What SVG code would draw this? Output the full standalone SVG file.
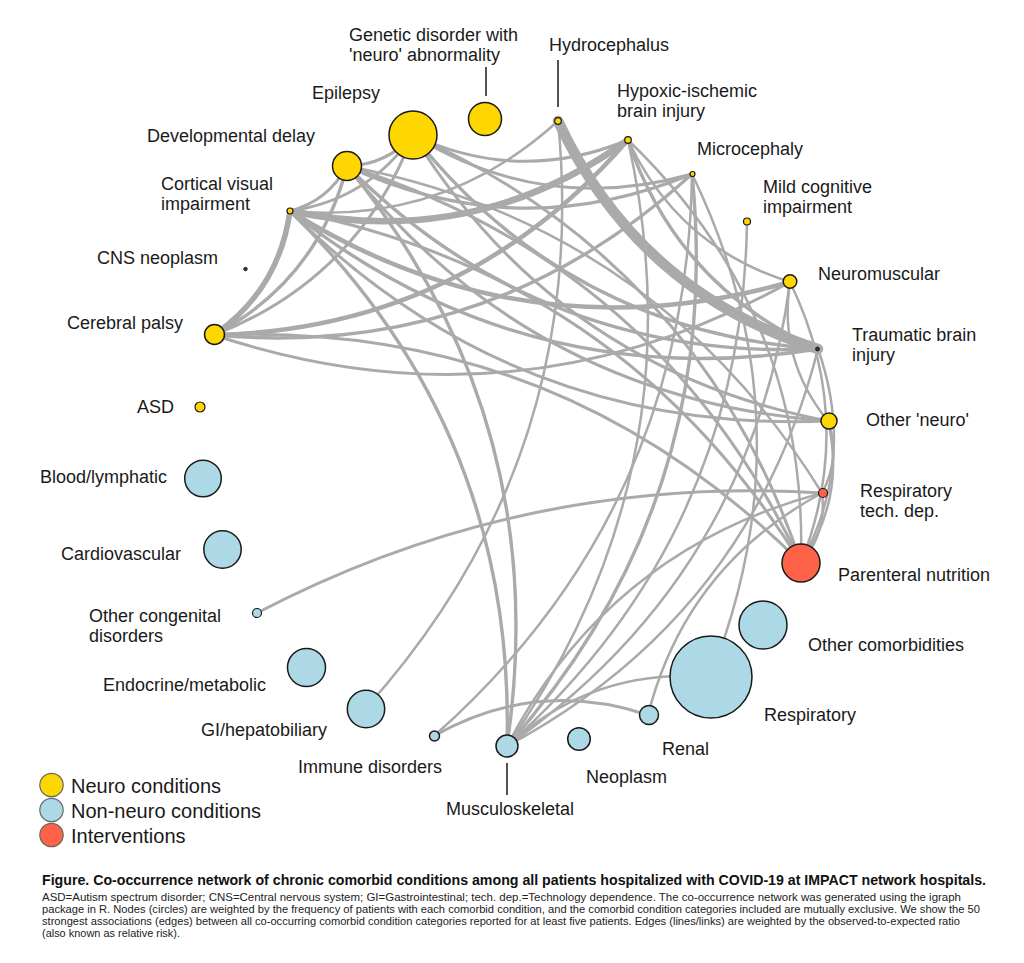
<svg xmlns="http://www.w3.org/2000/svg" width="1024" height="963" viewBox="0 0 1024 963">
<style>
.bg{fill:#ffffff}
.e{fill:none;stroke:#aaaaaa;stroke-linecap:round}
.w10{stroke-width:10.5}.w6{stroke-width:6.5}.w5{stroke-width:5.5}.w4{stroke-width:4.5}.w3{stroke-width:3.4}.w25{stroke-width:3}.w2{stroke-width:2.5}
.neuro{fill:#FFD700;stroke:#1a1a1a;stroke-width:1.5}
.non{fill:#ADD8E6;stroke:#1a1a1a;stroke-width:1.5}
.int{fill:#FF6347;stroke:#1a1a1a;stroke-width:1.5}
.tiny{stroke-width:1.2}
.dot{fill:#333333;stroke:#1a1a1a;stroke-width:0.8}
.lbl{font-family:"Liberation Sans",Arial,sans-serif;font-size:18px;fill:#1a1a1a}
.lead{stroke:#1a1a1a;stroke-width:1.5}
.leg{font-family:"Liberation Sans",Arial,sans-serif;font-size:20px;fill:#1a1a1a}
.lgc{stroke:#666666;stroke-width:1.2}
.cap{font-family:"Liberation Sans Narrow","Liberation Sans",Arial,sans-serif;font-size:14px;font-weight:bold;fill:#111111}
.body{font-family:"Liberation Sans Narrow","Liberation Sans",Arial,sans-serif;font-size:11px;fill:#222222}
</style>
<rect class="bg" x="0" y="0" width="1024" height="963"/>
<g id="connectors">
<path class="e w10" d="M558,121 Q638,292 818,349"/>
<path class="e w6" d="M290,211 Q475,250 628,140"/>
<path class="e w5" d="M214,335 Q279,290 290,211"/>
<path class="e w4" d="M214,335 Q464,329 628,140"/>
<path class="e w4" d="M290,211 Q524,357 790,282"/>
<path class="e w3" d="M507,746 Q725,501 692,174"/>
<path class="e w3" d="M347,166 Q387,165 413,135"/>
<path class="e w25" d="M290,211 Q368,200 413,135"/>
<path class="e w25" d="M290,211 Q328,201 347,166"/>
<path class="e w3" d="M214,335 Q318,280 347,166"/>
<path class="e w25" d="M214,335 Q358,279 413,135"/>
<path class="e w25" d="M413,135 Q519,185 628,140"/>
<path class="e w25" d="M413,135 Q544,216 692,174"/>
<path class="e w3" d="M413,135 Q568,331 818,349"/>
<path class="e w25" d="M413,135 Q558,369 828,421"/>
<path class="e w3" d="M347,166 Q518,246 692,174"/>
<path class="e w3" d="M347,166 Q542,361 818,349"/>
<path class="e w25" d="M347,166 Q531,399 828,421"/>
<path class="e w2" d="M290,211 Q444,225 558,121"/>
<path class="e w3" d="M290,211 Q524,396 818,349"/>
<path class="e w25" d="M290,211 Q513,434 828,421"/>
<path class="e w3" d="M214,335 Q488,360 692,174"/>
<path class="e w25" d="M214,335 Q514,435 790,282"/>
<path class="e w3" d="M628,140 Q677,286 818,349"/>
<path class="e w2" d="M628,140 Q678,247 790,282"/>
<path class="e w2" d="M366,708 Q591,457 558,121"/>
<path class="e w2" d="M434,736 Q687,512 692,174"/>
<path class="e w25" d="M648,715 Q536,678 434,736"/>
<path class="e w3" d="M507,746 Q516,431 290,211"/>
<path class="e w3" d="M507,746 Q555,421 347,166"/>
<path class="e w2" d="M507,746 Q701,470 628,140"/>
<path class="e w2" d="M507,746 Q743,536 747,221"/>
<path class="e w2" d="M507,746 Q751,576 790,282"/>
<path class="e w2" d="M507,746 Q750,616 818,349"/>
<path class="e w2" d="M822,493 Q609,550 507,746"/>
<path class="e w2" d="M710,677 Q593,667 507,746"/>
<path class="e w2" d="M710,677 Q812,422 692,174"/>
<path class="e w2" d="M822,493 Q686,566 648,715"/>
<path class="e w25" d="M822,493 Q523,474 257,613"/>
<path class="e w25" d="M801,563 Q701,264 413,135"/>
<path class="e w25" d="M801,563 Q661,265 347,166"/>
<path class="e w25" d="M801,563 Q623,275 290,211"/>
<path class="e w25" d="M801,563 Q558,320 214,335"/>
<path class="e w2" d="M801,563 Q808,313 628,140"/>
<path class="e w2" d="M801,563 Q846,498 828,421"/>
<path class="e w2" d="M801,563 Q827,533 822,493"/>
<path class="e w2" d="M801,563 Q857,460 818,349"/>
<path class="e w2" d="M801,563 Q857,420 790,282"/>
<path class="e w2" d="M822,493 Q841,458 828,421"/>
<path class="e w2" d="M822,493 Q656,225 347,166"/>
<path class="e w2" d="M790,282 Q778,360 828,421"/>
</g>
<g id="node-genetic"><circle class="neuro" cx="485" cy="119" r="16.5"/><line class="lead" x1="486" y1="67" x2="486" y2="96"/><text class="lbl" x="349" y="41">Genetic disorder with</text><text class="lbl" x="349" y="61">'neuro' abnormality</text></g>
<g id="node-epilepsy"><circle class="neuro" cx="413" cy="135" r="24"/><text class="lbl" x="312" y="99">Epilepsy</text></g>
<g id="node-devdelay"><circle class="neuro" cx="347" cy="166" r="14.5"/><text class="lbl" x="147" y="142">Developmental delay</text></g>
<g id="node-cvi"><circle class="neuro tiny" cx="290" cy="211" r="3"/><text class="lbl" x="161" y="190">Cortical visual</text><text class="lbl" x="161" y="210">impairment</text></g>
<g id="node-cns"><circle class="dot" cx="245.5" cy="269" r="1.8"/><text class="lbl" x="97" y="264">CNS neoplasm</text></g>
<g id="node-cp"><circle class="neuro" cx="214.5" cy="334.5" r="10"/><text class="lbl" x="67" y="329">Cerebral palsy</text></g>
<g id="node-hydro"><circle class="neuro tiny" cx="558" cy="121" r="3.3"/><line class="lead" x1="558" y1="60" x2="558" y2="107"/><text class="lbl" x="549" y="51">Hydrocephalus</text></g>
<g id="node-hypoxic"><circle class="neuro tiny" cx="628" cy="140" r="3.3"/><text class="lbl" x="617" y="97">Hypoxic-ischemic</text><text class="lbl" x="617" y="117">brain injury</text></g>
<g id="node-micro"><circle class="neuro tiny" cx="692.5" cy="174" r="2.5"/><text class="lbl" x="697" y="155">Microcephaly</text></g>
<g id="node-mild"><circle class="neuro tiny" cx="747" cy="221.5" r="3.5"/><text class="lbl" x="763" y="193">Mild cognitive</text><text class="lbl" x="763" y="213">impairment</text></g>
<g id="node-neuromuscular"><circle class="neuro" cx="790" cy="281.5" r="6.8"/><text class="lbl" x="818" y="280">Neuromuscular</text></g>
<g id="node-tbi"><circle class="dot" cx="817.5" cy="349" r="2"/><text class="lbl" x="852" y="341">Traumatic brain</text><text class="lbl" x="852" y="361">injury</text></g>
<g id="node-otherneuro"><circle class="neuro" cx="829" cy="421" r="8"/><text class="lbl" x="866" y="426">Other 'neuro'</text></g>
<g id="node-resptech"><circle class="int tiny" cx="823" cy="493" r="4.5"/><text class="lbl" x="860" y="497">Respiratory</text><text class="lbl" x="860" y="517">tech. dep.</text></g>
<g id="node-parenteral"><circle class="int" cx="801" cy="563" r="19"/><text class="lbl" x="838" y="581">Parenteral nutrition</text></g>
<g id="node-othercomorb"><circle class="non" cx="763" cy="625" r="24"/><text class="lbl" x="808" y="651">Other comorbidities</text></g>
<g id="node-respiratory"><circle class="non" cx="711" cy="677" r="41"/><text class="lbl" x="764" y="721">Respiratory</text></g>
<g id="node-renal"><circle class="non" cx="649" cy="715" r="9.5"/><text class="lbl" x="662" y="755">Renal</text></g>
<g id="node-neoplasm"><circle class="non" cx="579" cy="739" r="11.3"/><text class="lbl" x="586" y="783">Neoplasm</text></g>
<g id="node-musculo"><circle class="non" cx="507" cy="746" r="11"/><line class="lead" x1="507" y1="763" x2="507" y2="795"/><text class="lbl" x="446" y="815">Musculoskeletal</text></g>
<g id="node-immune"><circle class="non" cx="434.5" cy="736" r="5"/><text class="lbl" x="298" y="773">Immune disorders</text></g>
<g id="node-gi"><circle class="non" cx="366" cy="709" r="18.7"/><text class="lbl" x="201" y="736">GI/hepatobiliary</text></g>
<g id="node-endocrine"><circle class="non" cx="306.5" cy="667.5" r="19"/><text class="lbl" x="103" y="691">Endocrine/metabolic</text></g>
<g id="node-othercongenital"><circle class="non tiny" cx="257" cy="613" r="4.5"/><text class="lbl" x="89" y="622">Other congenital</text><text class="lbl" x="89" y="642">disorders</text></g>
<g id="node-cardio"><circle class="non" cx="222.5" cy="549.5" r="18.7"/><text class="lbl" x="61" y="560">Cardiovascular</text></g>
<g id="node-blood"><circle class="non" cx="203" cy="478.5" r="18.3"/><text class="lbl" x="40" y="483">Blood/lymphatic</text></g>
<g id="node-asd"><circle class="neuro tiny" cx="200" cy="407" r="5"/><text class="lbl" x="137" y="413">ASD</text></g>
<g id="legend">
<circle class="neuro lgc" cx="51.5" cy="785" r="11.7"/><text class="leg" x="71" y="793">Neuro conditions</text>
<circle class="non lgc" cx="51.5" cy="810" r="11.7"/><text class="leg" x="71" y="818">Non-neuro conditions</text>
<circle class="int lgc" cx="51.5" cy="835" r="11.7"/><text class="leg" x="71" y="843">Interventions</text>
</g>
<g id="caption">
<text class="cap" x="42" y="885" textLength="944" lengthAdjust="spacingAndGlyphs">Figure. Co-occurrence network of chronic comorbid conditions among all patients hospitalized with COVID-19 at IMPACT network hospitals.</text>
<text class="body" x="42" y="901" textLength="919" lengthAdjust="spacingAndGlyphs">ASD=Autism spectrum disorder; CNS=Central nervous system; GI=Gastrointestinal; tech. dep.=Technology dependence. The co-occurrence network was generated using the igraph</text>
<text class="body" x="42" y="913" textLength="938" lengthAdjust="spacingAndGlyphs">package in R. Nodes (circles) are weighted by the frequency of patients with each comorbid condition, and the comorbid condition categories included are mutually exclusive. We show the 50</text>
<text class="body" x="42" y="925" textLength="918" lengthAdjust="spacingAndGlyphs">strongest associations (edges) between all co-occurring comorbid condition categories reported for at least five patients. Edges (lines/links) are weighted by the observed-to-expected ratio</text>
<text class="body" x="42" y="937" textLength="138" lengthAdjust="spacingAndGlyphs">(also known as relative risk).</text>
</g>
</svg>
